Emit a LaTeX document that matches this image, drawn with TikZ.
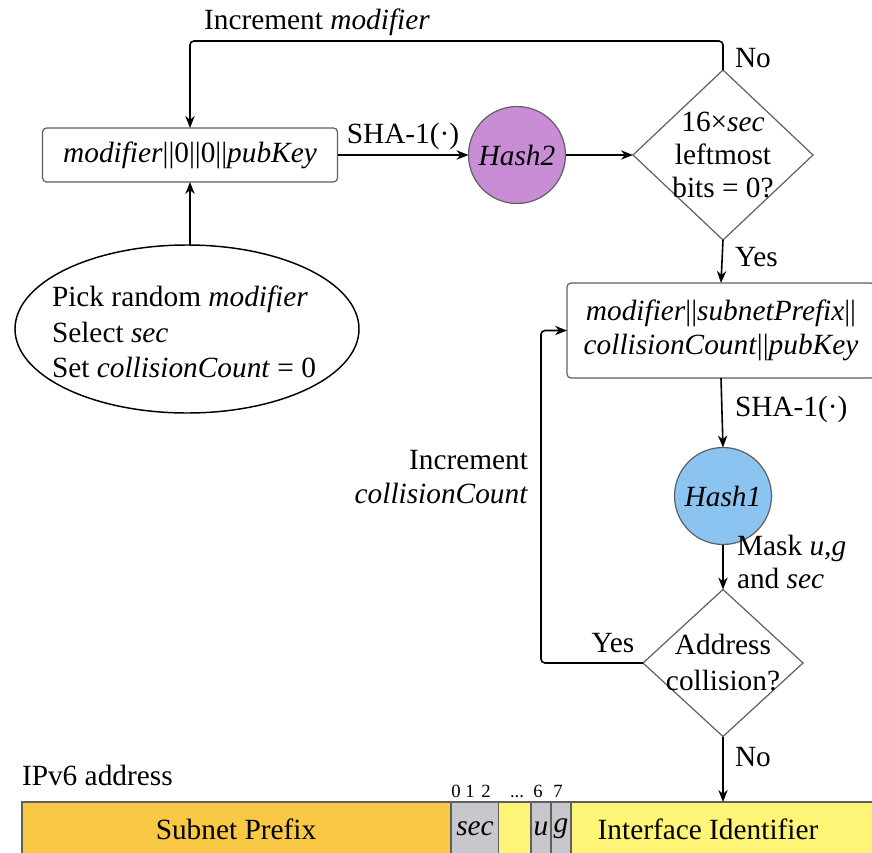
\documentclass[tikz,border=0pt]{standalone}
\usepackage{fontspec}
\setmainfont{LiberationSerif}[Extension=.ttf,UprightFont=*-Regular,ItalicFont=*-Italic,BoldFont=*-Bold,BoldItalicFont=*-BoldItalic]
\usetikzlibrary{shapes.geometric,arrows.meta}
\definecolor{hashpurple}{RGB}{201,141,214}
\definecolor{hashblue}{RGB}{139,196,240}
\definecolor{prefixorange}{RGB}{249,200,68}
\definecolor{iidyellow}{RGB}{254,244,118}
\definecolor{bitgray}{RGB}{200,200,204}
\definecolor{edge}{RGB}{95,95,95}
\begin{document}
\begin{tikzpicture}[x=0.75pt,y=-0.75pt,
  font=\fontsize{22}{26}\selectfont,
  every node/.style={inner sep=0pt,outer sep=0pt},
  flow/.style={line width=1.2pt,-{Stealth[length=9pt,width=7pt]}},
  procbox/.style={draw=edge,line width=0.9pt,rounded corners=3pt,fill=white},
  hashnode/.style={circle,draw=edge,line width=0.9pt,minimum size={97*0.75pt}},
  decision/.style={diamond,draw=edge,line width=0.9pt},
  field/.style={draw=edge,line width=0.8pt,anchor=north west,minimum height={60*0.75pt}},
  bitlabel/.style={anchor=base,font=\fontsize{14}{17}\selectfont}]
\useasboundingbox (0,0) rectangle (872,853);

% upper loop: search for a modifier
\node[procbox,minimum width={295*0.75pt},minimum height={54*0.75pt}] (box1) at (190,155)
  {\textit{modifier}||0||0||\textit{pubKey}};
\node[hashnode,fill=hashpurple] (hash2) at (517,155) {\textit{Hash2}};
\node[decision,minimum width={180*0.75pt},minimum height={170*0.75pt}] (d1) at (723,155) {};
\node[align=center,font=\fontsize{22}{25}\selectfont] at (d1) {16×\textit{sec}\\leftmost\\bits = 0?};

% start ellipse
\node[ellipse,draw=black,line width=1.1pt,minimum width={344*0.75pt},minimum height={168*0.75pt}] (start) at (187,329) {};
\node[align=left,anchor=west,font=\fontsize{22}{26.5}\selectfont] at (52,332)
  {Pick random \textit{modifier}\\Select \textit{sec}\\Set \textit{collisionCount} = 0};

% lower loop: collision handling
\node[procbox,minimum width={308*0.75pt},minimum height={95*0.75pt}] (box2) at (721,330.5) {};
\node[align=center] at (box2) {\textit{modifier}||\textit{subnetPrefix}||\\\textit{collisionCount}||\textit{pubKey}};
\node[hashnode,fill=hashblue] (hash1) at (723,496) {\textit{Hash1}};
\node[decision,minimum width={160*0.75pt},minimum height={147*0.75pt}] (d2) at (723,663) {};
\node[align=center,font=\fontsize{22}{27}\selectfont] at (d2) {Address\\collision?};

% connectors
\coordinate (looptop) at (0,41);
\coordinate (yesx) at (541,0);
\draw[flow] (start.north -| box1.south) -- (box1.south);
\draw[flow] (box1.east) -- node[above=4pt] {SHA-1(·)} (hash2.west);
\draw[flow] (hash2.east) -- (d1.west);
\draw[flow,rounded corners=3pt] (d1.north) -- (d1.north |- looptop) -- (box1.north |- looptop) -- (box1.north);
\draw[flow] (d1.south) -- (box2.north);
\draw[flow] (box2.south) -- (hash1.north);
\draw[flow] (hash1.south) -- (d2.north);
\draw[flow,rounded corners=3pt] (d2.west) -- (d2.west -| yesx) -- (box2.west -| yesx) -- (box2.west);

% connector labels
\node at (317,22) {Increment \textit{modifier}};
\node[anchor=west] at (735,58) {No};
\node[anchor=west] at (735,257) {Yes};
\node[anchor=west] at (735,409) {SHA-1(·)};
\node[anchor=west,align=left,font=\fontsize{22}{25}\selectfont] at (737,562) {Mask \textit{u,g}\\and \textit{sec}};
\node at (613,643) {Yes};
\node[anchor=east,align=right,font=\fontsize{22}{26}\selectfont] at (528,477) {Increment\\\textit{collisionCount}};
\node[anchor=west] at (735,757) {No};

% IPv6 address layout
\node[anchor=west] at (22,775) {IPv6 address};
\begin{scope}
\clip (0,0) rectangle (872,853);
\node[field,fill=prefixorange,minimum width={429*0.75pt}] (prefix) at (22,802) {};
\node[field,fill=bitgray,minimum width={48*0.75pt}] (secf) at (451,802) {};
\node[field,fill=iidyellow,draw=none,minimum width={80*0.75pt}] (pad) at (499,802) {};
\node[field,fill=bitgray,minimum width={20*0.75pt}] (ubit) at (531,802) {};
\node[field,fill=bitgray,minimum width={20*0.75pt}] (gbit) at (551,802) {};
\node[field,fill=iidyellow,minimum width={310*0.75pt}] (iid) at (571,802) {};
\draw[edge,line width=0.8pt] (secf.north east) -- (iid.north west);
\end{scope}
\node at (236,829) {Subnet Prefix};
\node at (475,829) {\textit{sec}};
\node at (541,829) {\textit{u}};
\node at (561,829) {\textit{g}};
\node at (708,829) {Interface Identifier};
\node[bitlabel] at (456,797) {0};
\node[bitlabel] at (470,797) {1};
\node[bitlabel] at (486,797) {2};
\node[bitlabel] at (517,797) {...};
\node[bitlabel] at (538,797) {6};
\node[bitlabel] at (558,797) {7};
\draw[flow] (d2.south) -- (d2.south |- iid.north);
\end{tikzpicture}
\end{document}
